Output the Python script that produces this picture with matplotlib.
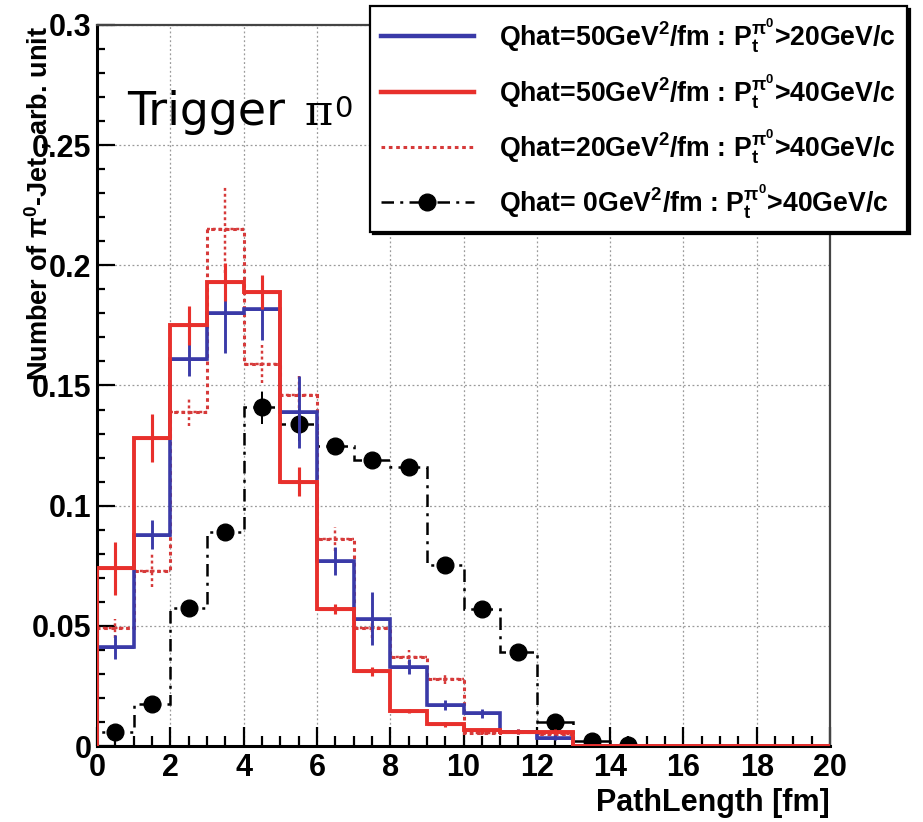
import numpy as np
import matplotlib
matplotlib.use("Agg")
import matplotlib.pyplot as plt
from matplotlib.lines import Line2D
from matplotlib.ticker import MultipleLocator, FuncFormatter

# Path-length bins: 20 bins of 1 fm from 0 to 20 fm
bin_edges = np.arange(0, 21, 1)

# Qhat=50 GeV^2/fm, pT > 20 GeV/c
q50_pt20 = [0.041, 0.088, 0.161, 0.180, 0.182, 0.139, 0.077, 0.053, 0.033, 0.017,
            0.0136, 0.006, 0.0035, 0, 0, 0, 0, 0, 0, 0]
q50_pt20_err = [0.005, 0.006, 0.007, 0.0165, 0.013, 0.015, 0.006, 0.011, 0.003, 0.002,
                0.002, 0.001, 0.001, 0, 0, 0, 0, 0, 0, 0]

# Qhat=50 GeV^2/fm, pT > 40 GeV/c
q50_pt40 = [0.074, 0.128, 0.175, 0.193, 0.189, 0.110, 0.057, 0.031, 0.0146, 0.009,
            0.0065, 0.006, 0.006, 0, 0, 0, 0, 0, 0, 0]
q50_pt40_err = [0.011, 0.010, 0.008, 0.008, 0.007, 0.006, 0.002, 0.002, 0.001, 0.001,
                0.001, 0.001, 0.001, 0, 0, 0, 0, 0, 0, 0]

# Qhat=20 GeV^2/fm, pT > 40 GeV/c
q20_pt40 = [0.049, 0.073, 0.139, 0.215, 0.159, 0.146, 0.086, 0.049, 0.037, 0.028,
            0.0055, 0.006, 0.005, 0, 0, 0, 0, 0, 0, 0]
q20_pt40_err = [0.004, 0.007, 0.006, 0.018, 0.008, 0.008, 0.005, 0.004, 0.003, 0.002,
                0.001, 0.001, 0.001, 0, 0, 0, 0, 0, 0, 0]

# Qhat=0 GeV^2/fm, pT > 40 GeV/c
q0_pt40 = [0.006, 0.0175, 0.0575, 0.089, 0.141, 0.134, 0.125, 0.119, 0.116, 0.0755,
           0.057, 0.039, 0.010, 0.002, 0.0003, 0, 0, 0, 0, 0]
q0_pt40_err = [0.002, 0.002, 0.003, 0.003, 0.007, 0.007, 0.003, 0.003, 0.003, 0.003,
               0.003, 0.002, 0.002, 0.001, 0.001, 0, 0, 0, 0, 0]

legend_labels = [
    r"Qhat=50GeV$^{2}$/fm : P$_{t}^{\pi^{0}}$>20GeV/c",
    r"Qhat=50GeV$^{2}$/fm : P$_{t}^{\pi^{0}}$>40GeV/c",
    r"Qhat=20GeV$^{2}$/fm : P$_{t}^{\pi^{0}}$>40GeV/c",
    r"Qhat= 0GeV$^{2}$/fm : P$_{t}^{\pi^{0}}$>40GeV/c",
]

plt.rcParams["font.family"] = ["Liberation Sans", "DejaVu Sans"]
plt.rcParams["font.weight"] = "bold"
plt.rcParams["mathtext.fontset"] = "custom"
plt.rcParams["mathtext.bf"] = "Liberation Sans:bold"
plt.rcParams["mathtext.rm"] = "Liberation Sans:bold"
plt.rcParams["mathtext.it"] = "Liberation Sans:bold"
plt.rcParams["mathtext.default"] = "bf"

BLUE = "#3a3aa8"
RED = "#e8302c"
RED_DOT = "#d63a3a"

fig = plt.figure(figsize=(9.23, 8.22), dpi=100)
ax = fig.add_axes([97 / 923, 76 / 822, 733 / 923, 721 / 822])

centers = 0.5 * (bin_edges[:-1] + bin_edges[1:])


def draw_hist(vals, errs, color, ls, lw, z, marker=None):
    vals = np.asarray(vals, float)
    errs = np.asarray(errs, float)
    ax.stairs(vals, bin_edges, baseline=0, color=color, linestyle=ls, lw=lw, zorder=z)
    m = errs > 0
    eb = ax.errorbar(centers[m], vals[m], yerr=errs[m],
                     xerr=0.5 if marker is None else None,
                     fmt="none" if marker is None else marker, ecolor=color, color=color,
                     elinewidth=lw * 0.8, capsize=0, ms=12, zorder=z + 0.1)
    if ls != "-":
        for c in eb.lines[2]:
            c.set_linestyle(ls)
    return eb


black_ls = (0, (5, 2.5, 1.2, 2.5))
draw_hist(q0_pt40, q0_pt40_err, "black", black_ls, 1.8, 2, marker="o")
draw_hist(q20_pt40, q20_pt40_err, RED_DOT, (0, (1.2, 1.2)), 2.2, 3)
draw_hist(q50_pt20, q50_pt20_err, BLUE, "-", 2.6, 4)
draw_hist(q50_pt40, q50_pt40_err, RED, "-", 2.8, 5)

ax.set_xlim(0, 20)
ax.set_ylim(0, 0.3)
ax.xaxis.set_major_locator(MultipleLocator(2))
ax.xaxis.set_minor_locator(MultipleLocator(0.5))
ax.yaxis.set_major_locator(MultipleLocator(0.05))
ax.yaxis.set_minor_locator(MultipleLocator(0.01))
ax.yaxis.set_major_formatter(FuncFormatter(
    lambda v, p: "0" if abs(v) < 1e-9 else ("%.2f" % v).rstrip("0")))

ax.grid(True, which="major", color="#9a9a9a", linestyle=(0, (1.5, 2)), linewidth=0.9, zorder=0)
ax.set_axisbelow(True)

ax.tick_params(axis="both", which="both", direction="in", top=False, right=False,
               width=1.6, color="black")
ax.tick_params(axis="x", which="major", length=13.5, labelsize=22, pad=5)
ax.tick_params(axis="x", which="minor", length=7.5)
ax.tick_params(axis="y", which="major", length=13, labelsize=22, pad=4)
ax.tick_params(axis="y", which="minor", length=5.5)

for side in ("left", "bottom"):
    ax.spines[side].set_linewidth(2.2)
    ax.spines[side].set_color("black")
for side in ("top", "right"):
    ax.spines[side].set_linewidth(1.6)
    ax.spines[side].set_color("#444444")

ax.set_xlabel("PathLength [fm]", fontsize=22, fontweight="bold", loc="right")
ax.xaxis.set_label_coords(1.0, -0.058)
ax.xaxis.label.set_verticalalignment("top")

ax.set_ylabel(r"Number of $\pi^{0}$-Jet , arb. unit", fontsize=19.5, fontweight="bold")
ax.yaxis.set_label_coords(-0.0805, 0.752)
ax.yaxis.label.set_verticalalignment("center")

# "Trigger pi0" annotation: sans word, serif pi with a superscript zero
fig.text(127 / 923, 1 - 125 / 822, "Trigger", fontsize=33, fontweight="normal",
         family="DejaVu Sans", ha="left", va="baseline", zorder=10)
fig.text(305 / 923, 1 - 125 / 822, "\u03c0", fontsize=31, fontweight="normal",
         family="DejaVu Serif", ha="left", va="baseline", zorder=10)
fig.text(334 / 923, 1 - 117 / 822, "0", fontsize=21, fontweight="normal",
         family="DejaVu Sans", ha="left", va="baseline", zorder=10)

handles = [
    Line2D([], [], color=BLUE, lw=3.2),
    Line2D([], [], color=RED, lw=3.2),
    Line2D([], [], color=RED_DOT, lw=2.2, linestyle=(0, (1.2, 1.2))),
    Line2D([], [], color="black", lw=1.8, linestyle=black_ls, marker="o", ms=12),
]
leg = fig.legend(handles, legend_labels, loc="upper left",
                 bbox_to_anchor=(370 / 923, 1 - 6 / 822),
                 fontsize=19.2, frameon=True, fancybox=False,
                 edgecolor="black", framealpha=1.0,
                 shadow={"color": "black", "alpha": 1.0},
                 borderpad=0.4, labelspacing=0.62, handlelength=3.5,
                 handletextpad=0.95, borderaxespad=0)
leg.get_frame().set_linewidth(1.6)
leg.set_zorder(20)

fig.savefig("out.png", dpi=100)
